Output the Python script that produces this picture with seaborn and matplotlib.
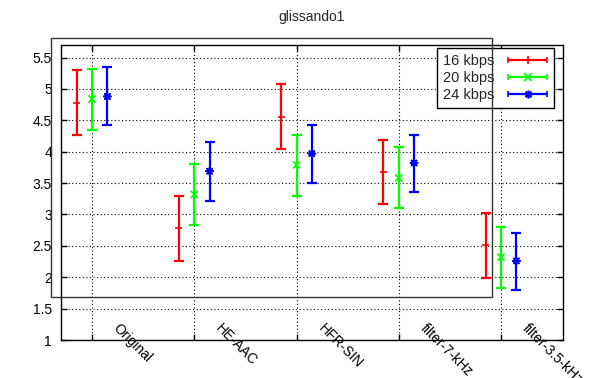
import numpy as np
import matplotlib
matplotlib.use('Agg')
import matplotlib.pyplot as plt
import matplotlib.transforms as mtransforms
from matplotlib.patches import Rectangle
from matplotlib.legend_handler import HandlerErrorbar
import seaborn as sns
import pandas as pd

# ---- data ----
categories = ['Original', 'HE-AAC', 'HFR-SIN', 'filter-7-kHz', 'filter-3.5-kHz']
series = ['16 kbps', '20 kbps', '24 kbps']

mean_16 = [4.78, 2.78, 4.56, 3.67, 2.51]
low_16 = [4.27, 2.26, 4.04, 3.16, 1.99]
high_16 = [5.30, 3.30, 5.08, 4.19, 3.02]

mean_20 = [4.84, 3.32, 3.79, 3.58, 2.32]
low_20 = [4.35, 2.84, 3.30, 3.10, 1.83]
high_20 = [5.32, 3.81, 4.27, 4.07, 2.80]

mean_24 = [4.88, 3.69, 3.97, 3.82, 2.26]
low_24 = [4.42, 3.22, 3.50, 3.36, 1.80]
high_24 = [5.35, 4.15, 4.42, 4.27, 2.71]

yticks = [1, 1.5, 2, 2.5, 3, 3.5, 4, 4.5, 5, 5.5]
ytick_labels = ['1', '1.5', '2', '2.5', '3', '3.5', '4', '4.5', '5', '5.5']
title = 'glissando1'

# ---- styling ----
sns.set_style('ticks')
plt.rcParams['font.family'] = ['Liberation Sans', 'DejaVu Sans']
plt.rcParams['font.size'] = 10

colors = ['#ff0000', '#00ff00', '#0000ff']
markers = ['+', 'x', (8, 2, 0)]
offsets = [-0.15, 0.0, 0.15]

means = [mean_16, mean_20, mean_24]
lows = [low_16, low_20, low_24]
highs = [high_16, high_20, high_24]

rows = []
for s, m, lo, hi, off in zip(series, means, lows, highs, offsets):
    for i, c in enumerate(categories):
        rows.append(dict(series=s, category=c, pos=i + off, mean=m[i], low=lo[i], high=hi[i]))
df = pd.DataFrame(rows)

fig = plt.figure(figsize=(6.03, 3.78), dpi=100)
ax = fig.add_axes([61 / 603, 1 - 340 / 378, (563 - 61) / 603, (340 - 45) / 378])

for s, col in zip(series, colors):
    d = df[df.series == s]
    yerr = np.vstack([d['mean'] - d['low'], d['high'] - d['mean']])
    ax.errorbar(d['pos'], d['mean'], yerr=yerr, fmt='none', ecolor=col,
                elinewidth=1.6, capsize=3.3, capthick=1.6, zorder=3)

sns.scatterplot(data=df, x='pos', y='mean', hue='series', style='series',
                palette=dict(zip(series, colors)), markers=dict(zip(series, markers)),
                s=26, linewidth=1.2, ax=ax, legend=False, zorder=4)

# legend proxies (horizontal error bars like gnuplot keys)
handles = []
for s, col, mk in zip(series, colors, markers):
    h = ax.errorbar([np.nan], [np.nan], xerr=[1], fmt='none', ecolor=col,
                    elinewidth=1.6, capsize=2.2, capthick=1.2, label=s)
    line = plt.Line2D([], [], color=col, marker=mk, linestyle='None',
                      markersize=5.5, markeredgewidth=1.2)
    handles.append((h, line))

ax.set_xlim(-0.303, 4.606)
ax.set_ylim(1, 5.7)
ax.set_xticks(range(len(categories)))
ax.set_xticklabels(categories)
ax.set_yticks(yticks)
ax.set_yticklabels(ytick_labels)
ax.set_xlabel('')
ax.set_ylabel('')
ax.set_title(title, fontsize=10, pad=17)

ax.grid(True, linestyle=(0, (1, 2.2)), color='black', linewidth=0.8)
ax.set_axisbelow(True)
ax.tick_params(direction='in', length=4, width=1, top=True, right=True,
               colors='black', labelsize=10)
ax.tick_params(axis='y', pad=6.5)
ax.tick_params(axis='x', pad=0)
for sp in ax.spines.values():
    sp.set_visible(True)
    sp.set_linewidth(1)
    sp.set_color('black')

offset = mtransforms.ScaledTranslation(21 / 100, 11 / 100, fig.dpi_scale_trans)
for lab in ax.get_xticklabels():
    lab.set_rotation(-45)
    lab.set_rotation_mode('anchor')
    lab.set_ha('left')
    lab.set_va('baseline')
    lab.set_transform(lab.get_transform() + offset)

leg = ax.legend(handles=handles, labels=series, loc='upper right',
                bbox_to_anchor=(554 / 603, 1 - 48 / 378), bbox_transform=fig.transFigure,
                markerfirst=False, frameon=True, fancybox=False, framealpha=1,
                edgecolor='black', fontsize=10.5, handlelength=2.8, labelspacing=0.2,
                borderpad=0.4, handletextpad=0.9, borderaxespad=0,
                handler_map={type(handles[0][0]): HandlerErrorbar(xerr_size=1.33)})
leg.get_frame().set_linewidth(1)
leg.set_zorder(6)

# the stray gnuplot frame
fig.add_artist(Rectangle((51 / 603, 1 - 297 / 378), (492 - 51) / 603, (297 - 38) / 378,
                         transform=fig.transFigure, fill=False, edgecolor='#333333',
                         linewidth=1, zorder=10))

fig.savefig('out.png', dpi=100)
